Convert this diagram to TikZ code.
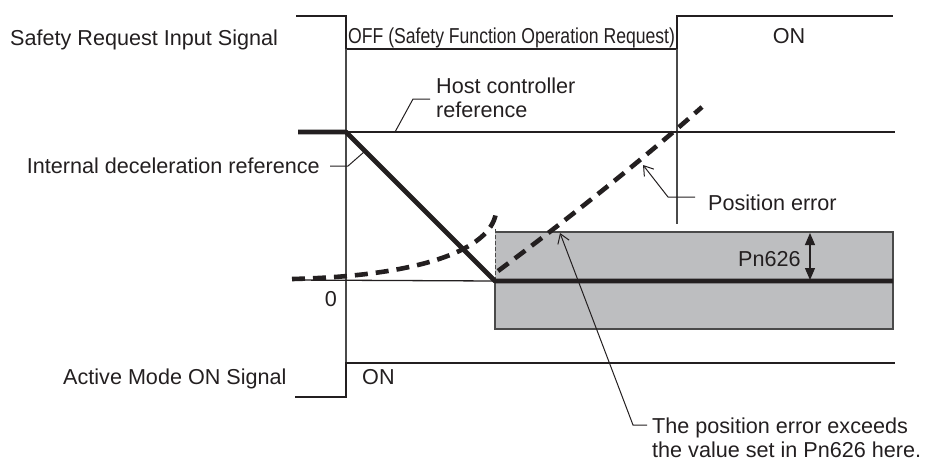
\documentclass[tikz,border=0pt]{standalone}
\usepackage{fontspec}
\setmainfont{Liberation Sans}
\usetikzlibrary{arrows.meta}
\definecolor{ink}{HTML}{231F20}
\definecolor{thin}{HTML}{4A4A4A}
\definecolor{boxfill}{HTML}{BDBEC0}
\tikzset{
  lbl/.style={inner sep=0pt, text=ink, font=\fontsize{21.6}{23}\selectfont},
  sig/.style={draw=ink, line width=2.6pt, line join=miter},
  thinline/.style={draw=thin, line width=1.3pt},
  refline/.style={draw=ink, line width=4.8pt, line join=bevel},
  errline/.style={draw=ink, line width=4.6pt, dash pattern=on 13pt off 8pt},
  leader/.style={draw=ink, line width=1pt},
  openarrow/.style={-{Straight Barb[length=9pt,width=12pt,line width=1pt]}},
}
\begin{document}
\begin{tikzpicture}[x=1pt,y=-1pt]
\useasboundingbox (0,0) rectangle (940,472);
% ---------- coordinates
\coordinate (s0) at (296,16);
\coordinate (s1) at (346,16);
\coordinate (s2) at (346,49);
\coordinate (s3) at (677,49);
\coordinate (s4) at (677,16);
\coordinate (s5) at (893,16);
\coordinate (a0) at (295,397);
\coordinate (a1) at (346,397);
\coordinate (a2) at (346,363);
\coordinate (a3) at (895,363);
\coordinate (v2b) at (677,224);
\coordinate (h0) at (298,132);
\coordinate (h1) at (346,132);
\coordinate (h2) at (895,132);
\coordinate (d1) at (495,281);
\coordinate (d2) at (893,281);
\coordinate (z0) at (292,280);
\coordinate (bx0) at (495,232);
\coordinate (bx1) at (893,329);
\coordinate (bxl) at (495,329);
\coordinate (bxd) at (495,229);
\coordinate (e0) at (292,279);
\coordinate (e1) at (496,213);
\coordinate (f0) at (498,271);
\coordinate (f1) at (702,107);
\coordinate (pa) at (810,233);
\coordinate (pb) at (810,280);
% ---------- box
\fill[boxfill] (bx0) rectangle (bx1);
\draw[thinline] (bxd |- bx0) -- (bx1 |- bx0) -- (bx1) -- (bxl) -- (d1);
\draw[draw=thin, line width=1pt, dash pattern=on 4pt off 2pt] (d1) -- (bxd);
% ---------- signals
\draw[sig] (s0) -- (s1) -- (s2) -- (s3) -- (s4) -- (s5);
\draw[thinline] (s2) -- (a2);
\draw[thinline] (s3) -- (v2b);
\draw[sig] (a0) -- (a1) -- (a2) -- (a3);
% ---------- references
\draw[thinline, draw=ink, line width=1.4pt] (h1) -- (h2);
\draw[thinline, draw=ink, line width=1.3pt] (z0) -- (d1);
\draw[refline] (h0) -- (h1) -- (d1) -- (d2);
% ---------- position error
\draw[errline] (e0) .. controls (420,276) and (490,250) .. (e1);
\draw[errline] (f0) .. controls (560,225) and (640,162) .. (f1);
% ---------- Pn626 dimension
\draw[draw=ink, line width=1.2pt, {Triangle[length=12pt,width=10pt]}-{Triangle[length=12pt,width=10pt]}] (pa) -- (pb);
% ---------- labels
\node[lbl, anchor=base west] (tSR) at (10,45) {Safety Request Input Signal};
\node[lbl, anchor=base west] (tOFF) at (348,43) {\scalebox{0.815}[1]{OFF (Safety Function Operation Request)}};
\node[lbl, anchor=base] (tON1) at (789,43) {ON};
\node[lbl, anchor=base west, align=left] (tHost) at (436,93) {Host controller};
\node[lbl, anchor=base west] (tHost2) at (436,117) {reference};
\node[lbl, anchor=base east] (tIDR) at (320,173) {Internal deceleration reference};
\node[lbl, anchor=base west] (tPE) at (708,210) {Position error};
\node[lbl, anchor=base west] (tPn) at (738,266) {Pn626};
\node[lbl, anchor=base] (tZero) at (331,306) {0};
\node[lbl, anchor=base west] (tAM) at (63,384) {Active Mode ON Signal};
\node[lbl, anchor=base west] (tON2) at (362,384) {ON};
\node[lbl, anchor=base west] (tNote1) at (652,433) {The position error exceeds};
\node[lbl, anchor=base west] (tNote2) at (652,457) {the value set in Pn626 here.};
% ---------- leaders
\coordinate (lh0) at (395,132);
\coordinate (lh1) at (413,99);
\coordinate (lh2) at (430,99);
\draw[leader] (lh0) -- (lh1) -- (lh2);
\coordinate (li0) at (330,166);
\coordinate (li1) at (348,166);
\coordinate (li2) at (364,152);
\draw[leader] (li0) -- (li1) -- (li2);
\coordinate (lp0) at (695,197);
\coordinate (lp1) at (668,197);
\coordinate (lp2) at (643,165);
\draw[leader, openarrow] (lp0) -- (lp1) -- (lp2);
\coordinate (ln0) at (647,425);
\coordinate (ln1) at (633,425);
\coordinate (ln2) at (560,233);
\draw[leader, openarrow] (ln0) -- (ln1) -- (ln2);
\end{tikzpicture}
\end{document}
